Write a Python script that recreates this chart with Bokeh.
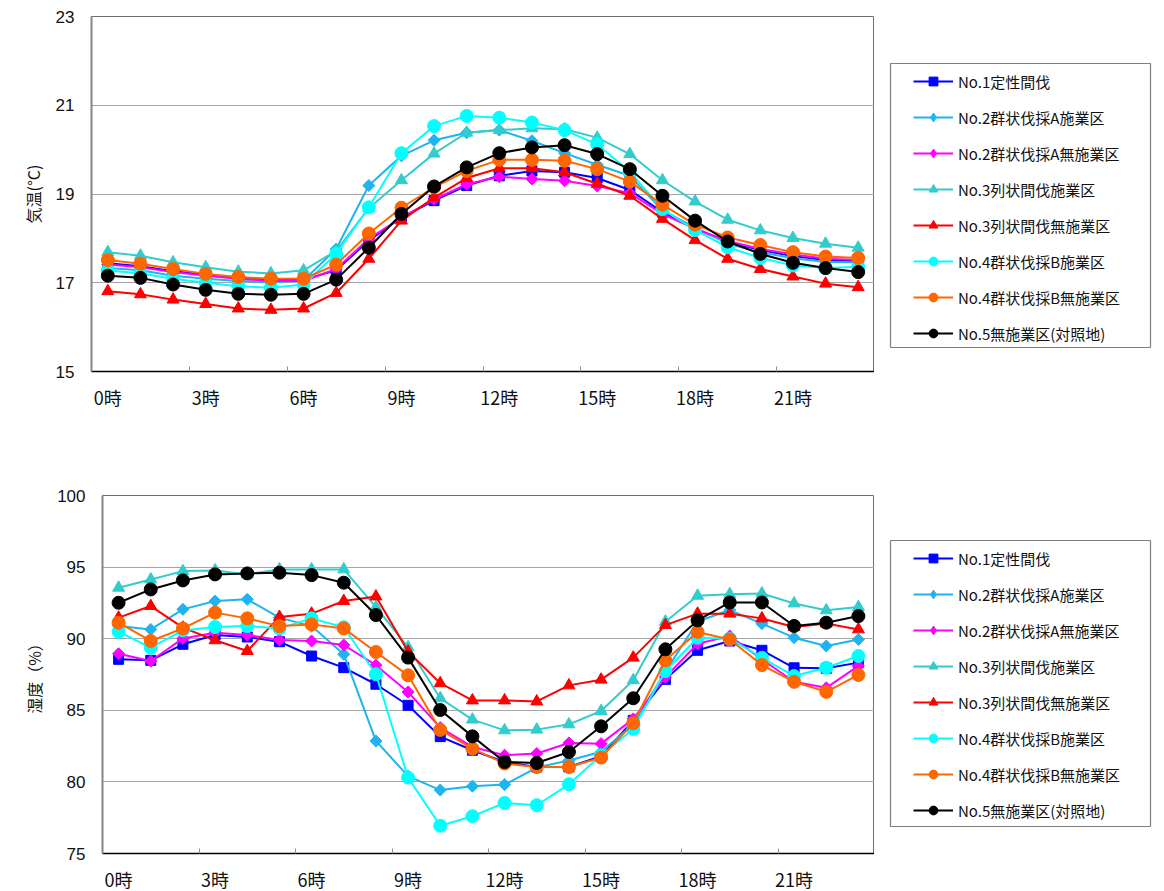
import math
from bokeh.plotting import figure
from bokeh.models import Range1d, FixedTicker, Legend, LegendItem
from bokeh.layouts import column, row
from bokeh.embed import file_html
from bokeh.resources import INLINE

# ---------------- data ----------------
hours = list(range(24))
hour_tick_values = [0, 3, 6, 9, 12, 15, 18, 21]
hour_tick_labels = ["0時", "3時", "6時", "9時", "12時", "15時", "18時", "21時"]

series_names = [
    "No.1定性間伐",
    "No.2群状伐採A施業区",
    "No.2群状伐採A無施業区",
    "No.3列状間伐施業区",
    "No.3列状間伐無施業区",
    "No.4群状伐採B施業区",
    "No.4群状伐採B無施業区",
    "No.5無施業区(対照地)",
]

temp_no1 = [17.44, 17.37, 17.26, 17.18, 17.11, 17.07, 17.07, 17.28, 17.95, 18.47, 18.85, 19.19,
            19.41, 19.52, 19.49, 19.36, 19.09, 18.59, 18.22, 17.92, 17.74, 17.60, 17.51, 17.49]
temp_no2a = [17.33, 17.28, 17.16, 17.09, 17.04, 17.01, 17.05, 17.76, 19.19, 19.86, 20.21, 20.38,
             20.44, 20.20, 19.92, 19.66, 19.41, 18.63, 18.25, 17.88, 17.69, 17.55, 17.47, 17.46]
temp_no2a_none = [17.41, 17.35, 17.24, 17.16, 17.09, 17.04, 17.04, 17.31, 17.99, 18.47, 18.88, 19.22,
                  19.39, 19.34, 19.30, 19.18, 19.02, 18.55, 18.22, 17.94, 17.76, 17.64, 17.54, 17.51]
temp_no3 = [17.69, 17.61, 17.46, 17.35, 17.25, 17.21, 17.28, 17.72, 18.68, 19.31, 19.91, 20.38,
            20.44, 20.48, 20.46, 20.27, 19.90, 19.31, 18.83, 18.42, 18.18, 18.01, 17.88, 17.79]
temp_no3_none = [16.81, 16.74, 16.62, 16.52, 16.42, 16.39, 16.42, 16.77, 17.54, 18.40, 18.92, 19.36,
                 19.58, 19.58, 19.49, 19.23, 18.96, 18.44, 17.96, 17.54, 17.31, 17.14, 16.98, 16.90]
temp_no4b = [17.28, 17.21, 17.09, 17.00, 16.92, 16.89, 16.96, 17.65, 18.70, 19.92, 20.53, 20.76,
             20.72, 20.61, 20.44, 20.12, 19.50, 18.66, 18.19, 17.80, 17.56, 17.39, 17.33, 17.36]
temp_no4b_none = [17.51, 17.43, 17.31, 17.20, 17.13, 17.09, 17.09, 17.41, 18.11, 18.69, 19.15, 19.52,
                  19.77, 19.77, 19.75, 19.56, 19.28, 18.76, 18.31, 18.02, 17.85, 17.69, 17.59, 17.56]
temp_no5 = [17.16, 17.11, 16.96, 16.84, 16.75, 16.73, 16.75, 17.07, 17.79, 18.55, 19.17, 19.60,
            19.92, 20.05, 20.10, 19.90, 19.56, 18.96, 18.40, 17.93, 17.65, 17.45, 17.33, 17.24]

hum_no1 = [88.56, 88.49, 89.61, 90.26, 90.12, 89.79, 88.79, 87.98, 86.82, 85.35, 83.16, 82.21,
           81.39, 81.04, 81.04, 81.80, 84.30, 87.16, 89.19, 89.84, 89.19, 87.97, 87.93, 88.33]
hum_no2a = [90.88, 90.65, 92.05, 92.63, 92.75, 91.47, 90.88, 88.91, 82.86, 80.40, 79.43, 79.70,
            79.81, 81.00, 81.50, 82.10, 84.00, 87.70, 91.20, 92.00, 91.05, 90.07, 89.49, 89.95]
hum_no2a_none = [88.95, 88.44, 90.02, 90.42, 90.26, 89.91, 89.84, 89.56, 88.15, 86.28, 83.79, 82.44,
                 81.86, 81.98, 82.72, 82.67, 84.40, 87.32, 89.65, 90.19, 88.56, 86.99, 86.57, 88.10]
hum_no3 = [93.56, 94.14, 94.72, 94.77, 94.49, 94.84, 94.84, 94.84, 92.20, 89.40, 85.84, 84.35,
           83.60, 83.65, 84.02, 84.95, 87.10, 91.19, 93.00, 93.11, 93.16, 92.46, 91.98, 92.21]
hum_no3_none = [91.47, 92.28, 90.77, 89.89, 89.14, 91.52, 91.75, 92.63, 92.95, 89.10, 86.89, 85.69,
                85.69, 85.62, 86.74, 87.14, 88.68, 90.95, 91.75, 91.75, 91.42, 90.82, 91.06, 90.65]
hum_no4b = [90.49, 89.37, 90.58, 90.82, 90.88, 90.72, 91.42, 90.80, 87.52, 80.30, 76.94, 77.60,
            78.53, 78.37, 79.83, 81.86, 83.70, 87.74, 90.07, 90.00, 88.67, 87.39, 87.97, 88.79]
hum_no4b_none = [91.12, 89.84, 90.72, 91.82, 91.42, 90.88, 91.00, 90.72, 89.07, 87.44, 83.63, 82.32,
                 81.28, 81.04, 81.04, 81.70, 84.10, 88.49, 90.47, 89.95, 88.16, 86.99, 86.29, 87.47]
hum_no5 = [92.51, 93.44, 94.07, 94.49, 94.56, 94.61, 94.44, 93.91, 91.65, 88.68, 85.02, 83.18,
           81.39, 81.32, 82.09, 83.88, 85.84, 89.26, 91.28, 92.53, 92.53, 90.89, 91.12, 91.58]

temp_series = [temp_no1, temp_no2a, temp_no2a_none, temp_no3, temp_no3_none,
               temp_no4b, temp_no4b_none, temp_no5]
hum_series = [hum_no1, hum_no2a, hum_no2a_none, hum_no3, hum_no3_none,
              hum_no4b, hum_no4b_none, hum_no5]

temp_ticks = [15, 17, 19, 21, 23]
hum_ticks = [75, 80, 85, 90, 95, 100]

# ---------------- styles ----------------
colors = ["#0000FF", "#1EB4F0", "#FF00FF", "#33CCCC", "#FF0000", "#00FFFF", "#FF6600", "#000000"]
markers = ["square", "square", "square", "triangle", "triangle", "circle", "circle", "circle"]
angles = [0, math.pi / 4, math.pi / 4, 0, 0, 0, 0, 0]
sizes = [10, 8.5, 8.5, 12, 12, 13, 13, 13]
leg_markers = ["square", "diamond", "diamond", "triangle", "triangle", "circle", "circle", "circle"]

CJK = "Noto Sans CJK JP"
LAT = "Liberation Sans"

LEFT_TOTAL = 874  # right edge of plot frames
LEG_W = 1164 - LEFT_TOTAL


def style_blank(p):
    p.outline_line_color = None
    p.background_fill_color = "white"
    p.border_fill_color = "white"


def make_chart(series, y0, y1, yticks, ylabel, left, fh, top, bottom):
    p = figure(output_backend="svg", toolbar_location=None,
               frame_width=LEFT_TOTAL - left, frame_height=fh,
               min_border_left=left, min_border_right=0,
               min_border_top=top, min_border_bottom=bottom,
               x_range=Range1d(-0.5, 23.5), y_range=Range1d(y0, y1))
    p.background_fill_color = "white"
    p.border_fill_color = "white"
    p.outline_line_color = "#6f6f6f"
    p.outline_line_width = 1

    xa = p.xaxis[0]
    boundaries = [v - 0.5 for v in hour_tick_values] + [23.5]
    xa.ticker = FixedTicker(ticks=hour_tick_values, minor_ticks=boundaries)
    xa.major_label_overrides = {v: t for v, t in zip(hour_tick_values, hour_tick_labels)}
    xa.major_tick_in = 0
    xa.major_tick_out = 0
    xa.minor_tick_in = 5
    xa.minor_tick_out = 0
    xa.minor_tick_line_color = "#8c8c8c"
    xa.axis_line_color = "#000000"
    xa.axis_line_width = 1.5
    xa.major_label_standoff = 12
    xa.major_label_text_font = CJK
    xa.major_label_text_font_size = "18px"
    xa.major_label_text_color = "#111111"

    ya = p.yaxis[0]
    ya.ticker = FixedTicker(ticks=yticks, minor_ticks=[])
    ya.major_tick_in = 0
    ya.major_tick_out = 0
    ya.minor_tick_line_color = None
    ya.axis_line_color = "#868686"
    ya.axis_line_width = 2
    ya.major_label_standoff = 17
    ya.major_label_text_font = LAT
    ya.major_label_text_font_size = "17px"
    ya.major_label_text_color = "#111111"
    ya.axis_label = ylabel
    ya.axis_label_text_font = CJK
    ya.axis_label_text_font_size = "16px"
    ya.axis_label_text_font_style = "normal"
    ya.axis_label_text_color = "#111111"
    ya.axis_label_standoff = 8

    p.xgrid.grid_line_color = None
    p.ygrid.grid_line_color = "#a6a6a6"
    p.ygrid.grid_line_width = 1

    for vals, c, m, a, s in zip(series, colors, markers, angles, sizes):
        p.line(hours, vals, line_color=c, line_width=2)
        p.scatter(hours, vals, marker=m, angle=a, size=s, fill_color=c, line_color=c)
    return p


def make_legend(fh, top, bottom, box_top, box_bottom):
    # frame aligned with the chart frame; 1 data unit == 1 pixel
    lf = figure(output_backend="svg", toolbar_location=None,
                frame_width=LEG_W, frame_height=fh,
                min_border_left=0, min_border_right=0,
                min_border_top=top, min_border_bottom=bottom,
                x_axis_type=None, y_axis_type=None,
                x_range=Range1d(0, LEG_W), y_range=Range1d(0, fh))
    style_blank(lf)
    box_l, box_r = 16, 276
    y_top = fh - box_top
    y_bot = fh - box_bottom
    lf.quad(left=[box_l], right=[box_r], top=[y_top], bottom=[y_bot],
            fill_color=None, line_color="#7f7f7f", line_width=1.2)
    items = []
    for name, c, m in zip(series_names, colors, leg_markers):
        lr = lf.line(x=[-50, -40], y=[-50, -50], line_color=c, line_width=2)
        sr = lf.scatter(x=[-50], y=[-50], marker=m, size=8, fill_color=c, line_color=c)
        items.append(LegendItem(label=name, renderers=[lr, sr]))
    n = len(items)
    gh, sp = 22, 14
    leg_h = n * gh + (n - 1) * sp
    leg = Legend(items=items, location=(box_l + 23, y_top - 7 - leg_h), padding=0, margin=0,
                 border_line_color=None, background_fill_alpha=0,
                 glyph_width=40, glyph_height=gh, label_height=gh,
                 spacing=sp, label_standoff=5,
                 label_text_font=CJK, label_text_font_size="15px",
                 label_text_color="#111111")
    lf.add_layout(leg, "center")
    return lf


# top chart: frame y 16..371 ; bottom chart: frame y 495..853
top_h = 440
bot_h = 448
p_temp = make_chart(temp_series, 15, 23, temp_ticks, "気温(°C)", 91, 355, 16, top_h - 16 - 355)
p_hum = make_chart(hum_series, 75, 100, hum_ticks, "湿度（%）", 102, 358, 55, bot_h - 55 - 358)
leg_temp = make_legend(355, 16, top_h - 16 - 355, 47, 331)
leg_hum = make_legend(358, 55, bot_h - 55 - 358, 45, 331)

layout = column(row(p_temp, leg_temp, spacing=0), row(p_hum, leg_hum, spacing=0), spacing=0)

open("out.html", "w").write(file_html(layout, INLINE))
